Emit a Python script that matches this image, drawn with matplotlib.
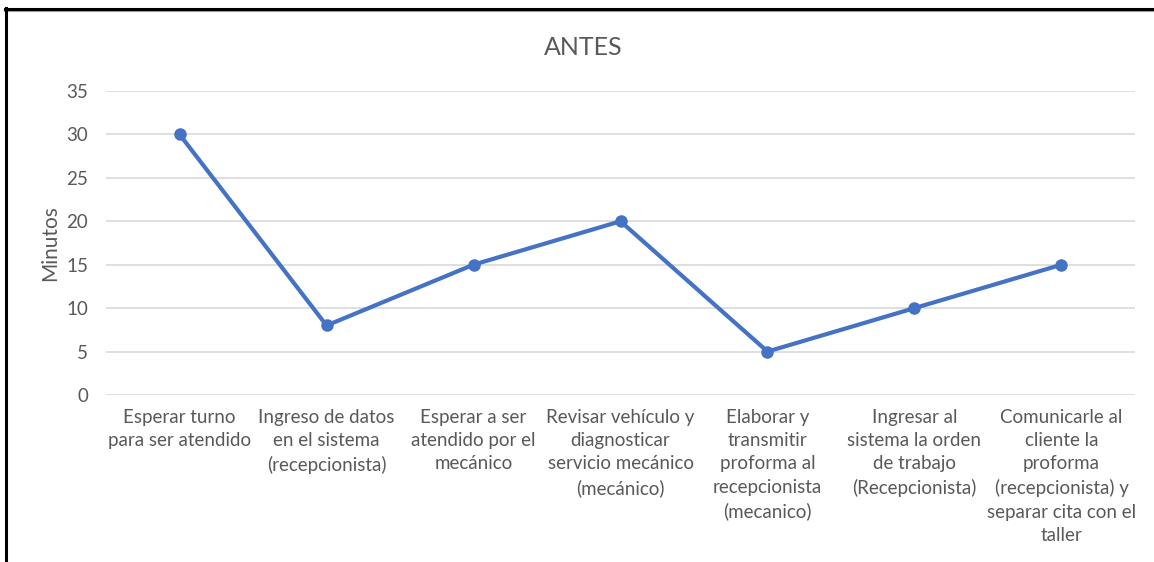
import matplotlib
matplotlib.use("Agg")
import matplotlib.pyplot as plt
from matplotlib.lines import Line2D

plt.rcParams['font.family'] = ['Lato', 'DejaVu Sans']

# tiempos por actividad, situacion inicial
actividades = [
    "Esperar turno\npara ser atendido",
    "Ingreso de datos\nen el sistema\n(recepcionista)",
    "Esperar a ser\natendido por el\nmecánico",
    "Revisar vehículo y\ndiagnosticar\nservicio mecánico\n(mecánico)",
    "Elaborar y\ntransmitir\nproforma al\nrecepcionista\n(mecanico)",
    "Ingresar al\nsistema la orden\nde trabajo\n(Recepcionista)",
    "Comunicarle al\ncliente la\nproforma\n(recepcionista) y\nseparar cita con el\ntaller",
]
minutos = [30, 8, 15, 20, 5, 10, 15]
yticks = [0, 5, 10, 15, 20, 25, 30, 35]

gris = "#595959"
azul = "#4472C4"

fig = plt.figure(figsize=(11.54, 5.62), dpi=100)
ax = fig.add_axes([0.0919, 0.2972, 0.8916, 0.5409])

x = range(len(actividades))
ax.plot(x, minutos, color=azul, linewidth=3, marker='o', markersize=8,
        solid_joinstyle='round', zorder=3)

ax.set_xlim(-0.5, len(actividades) - 0.5)
ax.set_ylim(0, 35)
ax.set_yticks(yticks)
ax.set_xticks(list(x))
ax.set_xticklabels(actividades, linespacing=1.45)
ax.tick_params(axis='both', length=0, labelsize=13.5, labelcolor=gris)
ax.tick_params(axis='x', pad=10)
ax.tick_params(axis='y', pad=13)
ax.grid(axis='y', color="#D9D9D9", linewidth=1.2)
ax.set_axisbelow(True)
for s in ax.spines.values():
    s.set_visible(False)

fig.text(0.5052, 0.9146, "ANTES", ha='center', va='center', fontsize=18, color=gris)
fig.text(0.0433, 0.5676, "Minutos", ha='center', va='center', rotation=90,
         fontsize=15, color=gris)

# marco del grafico
fig.add_artist(Line2D([5, 1154], [551, 551], transform=None, color="#A0A0A0", linewidth=1.5))
fig.add_artist(Line2D([5, 1154], [553, 553], transform=None, color="black", linewidth=2.2))
fig.add_artist(Line2D([6, 6], [0, 554], transform=None, color="black", linewidth=2.2))

fig.savefig("out.png", dpi=100)
